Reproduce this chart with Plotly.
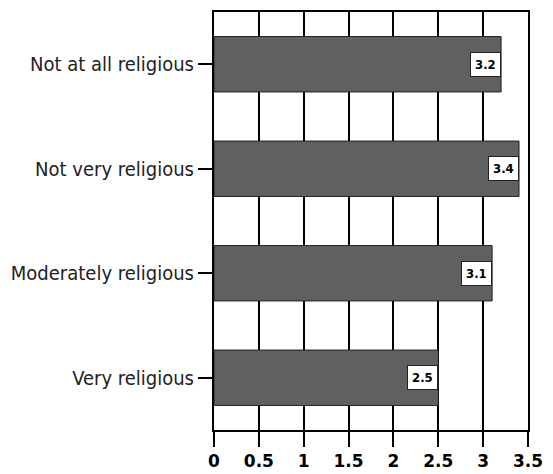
import plotly.graph_objects as go

# data (top to bottom as drawn)
categories = ["Not at all religious", "Not very religious", "Moderately religious", "Very religious"]
values = [3.2, 3.4, 3.1, 2.5]
x_ticks = [0, 0.5, 1, 1.5, 2, 2.5, 3, 3.5]
x_tick_labels = ["0", "0.5", "1", "1.5", "2", "2.5", "3", "3.5"]

BAR_GREY = "#606060"
NARROW = "'DejaVu Sans Condensed', 'Liberation Sans Narrow', 'Roboto Condensed', 'Arial Narrow', sans-serif"

fig = go.Figure(go.Bar(
    x=values, y=categories, orientation="h",
    marker=dict(color=BAR_GREY, line=dict(color="#222222", width=1)),
    width=0.53,
    hoverinfo="skip",
))

# value boxes at the end of each bar
for cat, v in zip(categories, values):
    fig.add_annotation(
        x=v, y=cat, xref="x", yref="y",
        text=f"<b>{v}</b>", showarrow=False,
        xanchor="right", yanchor="middle",
        bgcolor="white", bordercolor="#222222", borderwidth=1, borderpad=4,
        font=dict(family=NARROW, size=13, color="black"),
    )

# page body adds an 8px offset, so the figure is 8px smaller than the window
fig.update_layout(
    width=545, height=466,
    margin=dict(l=206, r=25, t=4, b=44),
    plot_bgcolor="white", paper_bgcolor="white",
    showlegend=False,
    xaxis=dict(
        range=[0, 3.5], tickvals=x_ticks, ticktext=x_tick_labels,
        showgrid=True, gridcolor="black", gridwidth=2,
        showline=True, linecolor="black", linewidth=2, mirror=True,
        ticks="outside", ticklen=15, tickwidth=2, tickcolor="black",
        tickfont=dict(family="DejaVu Sans", size=17, color="black", weight="bold"),
        zeroline=False, automargin=False, fixedrange=True,
    ),
    yaxis=dict(
        categoryorder="array", categoryarray=categories[::-1],
        showgrid=False,
        showline=True, linecolor="black", linewidth=2, mirror=True,
        ticks="outside", ticklen=14, tickwidth=2, tickcolor="black",
        tickfont=dict(family=NARROW, size=20, color="#222222"),
        automargin=False, fixedrange=True,
    ),
)

fig.write_html("out.html")
